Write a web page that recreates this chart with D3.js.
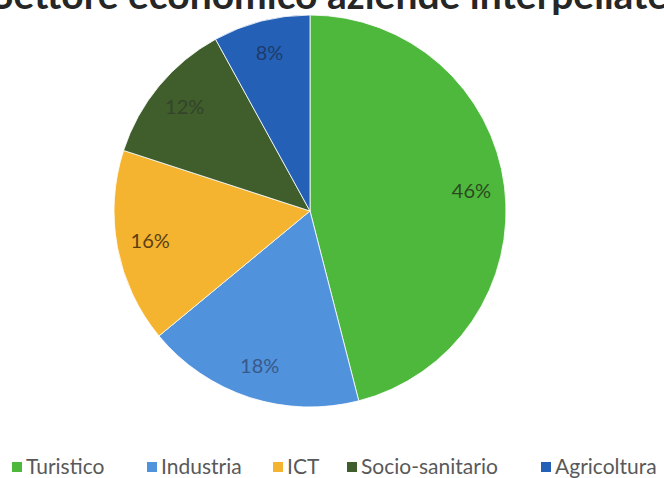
<!DOCTYPE html>
<html>
<head>
<meta charset="utf-8">
<script src="https://cdn.jsdelivr.net/npm/d3@7"></script>
<style>
  html, body { margin: 0; padding: 0; background: #fff; }
  svg { display: block; }
</style>
</head>
<body>
<svg id="chart" width="664" height="478"></svg>
<script>
// Sector shares of the companies interviewed (percent)
const categories = ["Turistico", "Industria", "ICT", "Socio-sanitario", "Agricoltura"];
const shares = [46, 18, 16, 12, 8];
const sliceColors = ["#4db83b", "#5192dc", "#f5b430", "#3f5e2b", "#2461b6"];
const labelColors = ["#2c4a22", "#39598a", "#5b3f12", "#34432a", "#1f3a6c"];
const titleText = "Settore economico aziende interpellate";

const svg = d3.select("#chart");
const cx = 310, cy = 211, radius = 196;
const fontFamily = "Lato, 'Open Sans', sans-serif";

// Title: wide bold heading that runs past the top and side edges
const title = svg.append("text")
  .attr("x", 0)
  .attr("y", 9)
  .attr("font-family", fontFamily)
  .attr("font-weight", "bold")
  .attr("font-size", 39)
  .attr("fill", "#262626")
  .text(titleText);
// shift so the word "economico" begins at x = 128
const econStart = title.node().getStartPositionOfChar(8).x;
title.attr("x", 128 - econStart);

const data = categories.map((c, i) => ({ category: c, value: shares[i] }));

const pie = d3.pie()
  .value(d => d.value)
  .sort(null)
  .startAngle(0)
  .endAngle(2 * Math.PI);

const arc = d3.arc().innerRadius(0).outerRadius(radius);
const labelArc = d3.arc().innerRadius(radius * 0.83).outerRadius(radius * 0.83);

const color = d3.scaleOrdinal().domain(categories).range(sliceColors);
const labelColor = d3.scaleOrdinal().domain(categories).range(labelColors);

const g = svg.append("g").attr("transform", `translate(${cx},${cy})`);
const arcs = pie(data);

g.selectAll("path.slice")
  .data(arcs)
  .join("path")
  .attr("class", "slice")
  .attr("d", arc)
  .attr("fill", d => color(d.data.category))
  .attr("stroke", "#ffffff")
  .attr("stroke-width", 0.8);

g.selectAll("text.pct")
  .data(arcs)
  .join("text")
  .attr("class", "pct")
  .attr("transform", d => `translate(${labelArc.centroid(d)})`)
  .attr("text-anchor", "middle")
  .attr("dy", "0.35em")
  .attr("font-family", fontFamily)
  .attr("font-size", 20)
  .attr("fill", d => labelColor(d.data.category))
  .text(d => d.data.value + "%");

// Legend row along the bottom
const legendX = [12, 147, 273, 347, 541];
const legend = svg.append("g");
const items = legend.selectAll("g.item")
  .data(categories)
  .join("g")
  .attr("class", "item")
  .attr("transform", (d, i) => `translate(${legendX[i]},462)`);

items.append("rect")
  .attr("width", 10)
  .attr("height", 10)
  .attr("fill", d => color(d));

items.append("text")
  .attr("x", 14)
  .attr("y", 12)
  .attr("font-family", fontFamily)
  .attr("font-size", 21)
  .attr("fill", "#595959")
  .text(d => d);
</script>
</body>
</html>
